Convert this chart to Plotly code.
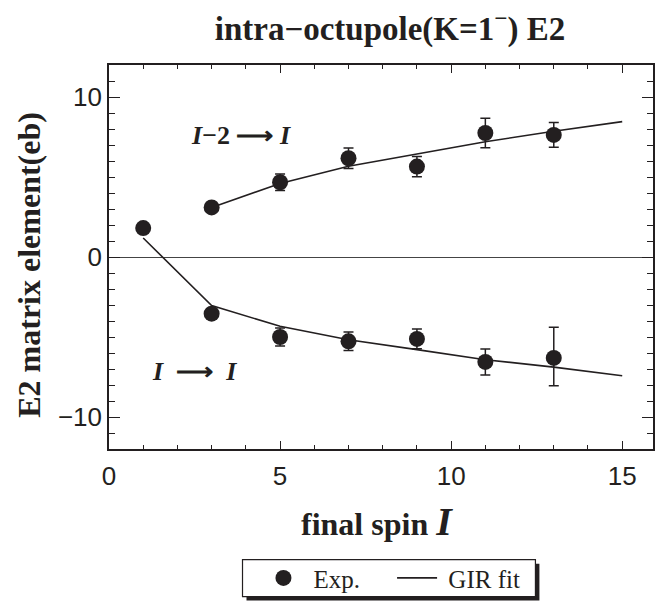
import plotly.graph_objects as go

# ---- data ----
# Experimental E2 matrix elements: I-2 -> I (upper) and I -> I (lower)
up_spin = [3, 5, 7, 9, 11, 13]
up_val = [3.1, 4.67, 6.17, 5.65, 7.75, 7.63]
up_err_plus = [0.3, 0.52, 0.64, 0.63, 0.92, 0.77]
up_err_minus = [0.3, 0.52, 0.64, 0.63, 0.92, 0.77]

lo_spin = [1, 3, 5, 7, 9, 11, 13]
lo_val = [1.81, -3.54, -5.0, -5.27, -5.12, -6.56, -6.31]
lo_err_plus = [0.2, 0.3, 0.56, 0.58, 0.62, 0.81, 1.92]
lo_err_minus = [0.2, 0.3, 0.56, 0.58, 0.62, 0.81, 1.73]

# GIR fit curves
fit_up_spin = [3, 5, 7, 9, 11, 13, 15]
fit_up_val = [3.1, 4.6, 5.67, 6.44, 7.2, 7.86, 8.46]
fit_lo_spin = [1, 3, 5, 7, 9, 11, 13, 15]
fit_lo_val = [1.19, -3.04, -4.33, -5.17, -5.79, -6.42, -6.88, -7.42]

x_ticks = [0, 5, 10, 15]
y_ticks = [-10, 0, 10]

BLACK = "#231f20"
SERIF = "Liberation Serif, Times New Roman, serif"
SANS = "Liberation Sans, Arial, sans-serif"

# plot area in pixels
L, R, T, B = 109, 655, 65, 450
W, H = 656, 602


def px_x(p):
    return (p - L) / (R - L)


def px_y(p):
    return (B - p) / (B - T)


fig = go.Figure()

fig.add_trace(go.Scatter(x=fit_up_spin, y=fit_up_val, mode="lines",
                         line=dict(color=BLACK, width=1.6), name="GIR fit",
                         showlegend=False))
fig.add_trace(go.Scatter(x=fit_lo_spin, y=fit_lo_val, mode="lines",
                         line=dict(color=BLACK, width=1.6),
                         name="\u00a0GIR fit",
                         showlegend=True, legendrank=2))

exp_x = up_spin + lo_spin
exp_y = up_val + lo_val
fig.add_trace(go.Scatter(
    x=exp_x, y=exp_y, mode="markers", name="\u2009Exp.\u2003\u200a", legendrank=1,
    marker=dict(color=BLACK, size=16, line=dict(width=0)),
    error_y=dict(type="data", symmetric=False,
                 array=up_err_plus + lo_err_plus,
                 arrayminus=up_err_minus + lo_err_minus,
                 color=BLACK, thickness=1.5, width=5),
))

axis_common = dict(showline=True, linecolor=BLACK, linewidth=1.6, mirror="ticks",
                   ticks="inside", tickcolor=BLACK, tickwidth=1.4,
                   showgrid=False, tickfont=dict(family=SANS, size=26, color=BLACK))

fig.update_xaxes(range=[0, 15.9], tickvals=x_ticks, ticklen=8, ticklabelstandoff=3,
                 minor=dict(dtick=1, ticks="inside", ticklen=4, tickcolor=BLACK, tickwidth=1.2, showgrid=False),
                 zeroline=False, **axis_common)
fig.update_yaxes(range=[-12, 12], tickvals=y_ticks, ticklen=11,
                 minor=dict(dtick=1, ticks="inside", ticklen=6, tickcolor=BLACK, tickwidth=1.2, showgrid=False),
                 zeroline=True, zerolinecolor="#444444", zerolinewidth=1,
                 **axis_common)

# axis titles
fig.add_annotation(x=px_x(378), y=px_y(523), xref="paper", yref="paper",
                   xanchor="center", yanchor="middle", showarrow=False,
                   text="<b>final spin </b><b><i><span style='font-size:40px'>I</span></i></b>",
                   font=dict(family=SERIF, size=32, color=BLACK))
fig.add_annotation(x=px_x(29), y=px_y(265), xref="paper", yref="paper",
                   xanchor="center", yanchor="middle", showarrow=False, textangle=-90,
                   text="<b>E2 matrix element(eb)</b>",
                   font=dict(family=SERIF, size=32, color=BLACK))

# in-plot labels
fig.add_annotation(x=3.86, y=7.6, xref="x", yref="y",
                   text="<b><i>I</i>\u22122 \u27f6 <i>I</i></b>", showarrow=False,
                   font=dict(family=SERIF, size=26, color=BLACK))
fig.add_annotation(x=2.5, y=-7.15, xref="x", yref="y",
                   text="<b><i>I</i>\u2002\u27f6\u2002<i>I</i></b>", showarrow=False,
                   font=dict(family=SERIF, size=26, color=BLACK))

# legend frame with drop shadow
box_l, box_r, box_t, box_b = 243, 537, 561, 598
fig.add_shape(type="rect", xref="paper", yref="paper",
              x0=px_x(box_l + 4), x1=px_x(box_r + 4),
              y0=px_y(box_b + 4), y1=px_y(box_t + 4),
              fillcolor=BLACK, line=dict(width=0), layer="above")
fig.add_shape(type="rect", xref="paper", yref="paper",
              x0=px_x(box_l), x1=px_x(box_r),
              y0=px_y(box_b), y1=px_y(box_t),
              fillcolor="white", line=dict(color=BLACK, width=1.2), layer="above")

fig.update_layout(
    width=W, height=H,
    margin=dict(l=L, r=W - R, t=T, b=H - B),
    paper_bgcolor="white", plot_bgcolor="white",
    title=dict(text="<b>intra\u2212octupole(K=1<sup>\u2212</sup>) E2</b>",
               font=dict(family=SERIF, size=33, color=BLACK),
               x=390 / W, xanchor="center",
               y=1 - 28 / H, yanchor="middle", yref="container"),
    legend=dict(orientation="h", x=px_x(box_l + 16), xanchor="left",
                y=px_y((box_t + box_b) / 2), yanchor="middle",
                bgcolor="rgba(0,0,0,0)", borderwidth=0,
                font=dict(family=SERIF, size=25, color=BLACK),
                traceorder="normal", itemwidth=40),
    showlegend=True,
)

fig.write_html("out.html")
